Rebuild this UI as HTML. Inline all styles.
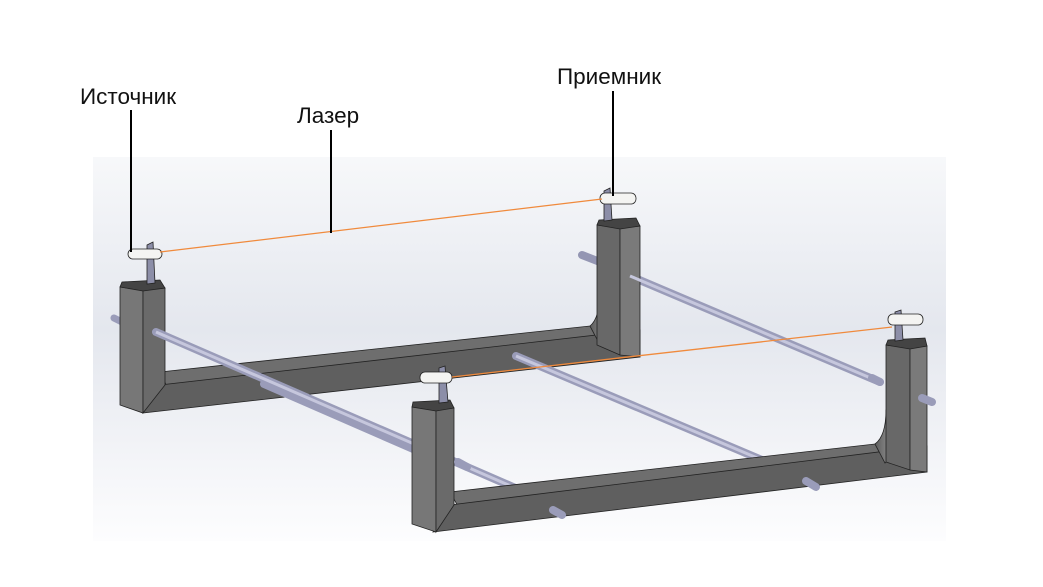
<!DOCTYPE html>
<html><head><meta charset="utf-8"><style>
html,body{margin:0;padding:0;background:#fff;}
svg{display:block}
text{font-family:"Liberation Sans",sans-serif;font-size:22.5px;fill:#111}
</style></head><body>
<svg width="1043" height="587" viewBox="0 0 1043 587" xmlns="http://www.w3.org/2000/svg">
<defs>
<linearGradient id="bg" x1="0" y1="0" x2="0" y2="1">
<stop offset="0" stop-color="#f7f8fa"/><stop offset="0.45" stop-color="#e4e7ee"/><stop offset="1" stop-color="#fdfdfe"/>
</linearGradient>
<linearGradient id="curve" x1="0" y1="0" x2="1" y2="0">
<stop offset="0" stop-color="#5c5c5c"/><stop offset="1" stop-color="#b0b0b0"/>
</linearGradient>
</defs>
<rect x="93" y="157" width="853" height="384" fill="url(#bg)"/>

<line x1="582" y1="255" x2="600" y2="262" stroke="#9496b3" stroke-width="8" stroke-linecap="round"/>
<line x1="630" y1="276" x2="880" y2="382" stroke="#9a9cb9" stroke-width="8" stroke-linecap="round"/>
<line x1="114" y1="318" x2="124" y2="323" stroke="#9a9cb9" stroke-width="7" stroke-linecap="round"/>

<!-- BACK FRAME -->
<g stroke="#222" stroke-width="0.8">
<polygon points="160,372 590,326 600,345 170,393" fill="#6e6e6e"/>
<polygon points="143,413 640,357 640,330 160,385" fill="#5f5f5f"/>
<path d="M590,326 Q600,318 600,290 L615,290 Q615,330 600,345 Z" fill="url(#curve)"/>
<polygon points="597,225 620,228 620,355 597,345" fill="#686868"/>
<polygon points="620,228 640,226 640,357 620,355" fill="#7a7a7a"/>
<polygon points="120,287 143,290 143,413 120,405" fill="#777"/>
<polygon points="143,290 165,288 165,385 143,413" fill="#6a6a6a"/>
</g>
<g stroke="#222" stroke-width="0.8">
<polygon points="122,282 160,280 165,288 143,291 120,287" fill="#444"/>
<polygon points="599,220 636,218 640,226 620,229 597,225" fill="#444"/>
<polygon points="147,245 153,242 155,283 147,284" fill="#8c8ea8"/>
<polygon points="604,191 610,188 612,220 604,221" fill="#8c8ea8"/>
<rect x="128" y="249" width="34" height="10" rx="5" fill="#f4f4f2"/>
<rect x="600" y="193" width="36" height="11" rx="5" fill="#f4f4f2"/>
</g>

<line x1="156" y1="332" x2="520" y2="490" stroke="#9a9cb9" stroke-width="8" stroke-linecap="round"/>
<line x1="264" y1="384" x2="420" y2="452" stroke="#9a9cb9" stroke-width="8" stroke-linecap="round"/>
<line x1="516" y1="356" x2="762" y2="460" stroke="#9a9cb9" stroke-width="8" stroke-linecap="round"/>
<line x1="156" y1="332" x2="520" y2="490" stroke="#c6c7dd" stroke-width="3"/>
<line x1="516" y1="356" x2="762" y2="460" stroke="#c6c7dd" stroke-width="3"/>
<line x1="630" y1="276" x2="880" y2="382" stroke="#c6c7dd" stroke-width="3"/>

<!-- FRONT FRAME -->
<g stroke="#222" stroke-width="0.8">
<polygon points="450,492 875,444 885,463 460,510" fill="#6e6e6e"/>
<polygon points="433,532 927,472 927,446 450,505" fill="#5f5f5f"/>
<path d="M875,444 Q886,436 886,410 L900,410 Q900,452 885,463 Z" fill="url(#curve)"/>
<polygon points="886,345 910,348 910,470 886,462" fill="#686868"/>
<polygon points="910,348 927,346 927,472 910,470" fill="#7a7a7a"/>
<polygon points="412,407 436,410 436,532 412,524" fill="#777"/>
<polygon points="436,410 454,408 454,505 436,532" fill="#6a6a6a"/>
</g>
<g stroke="#222" stroke-width="0.8">
<polygon points="413,402 450,400 454,408 436,411 412,407" fill="#444"/>
<polygon points="888,340 925,338 927,346 910,349 886,345" fill="#444"/>
<polygon points="439,368 445,366 448,402 439,403" fill="#8c8ea8"/>
<polygon points="895,312 901,310 903,340 895,341" fill="#8c8ea8"/>
<rect x="420" y="372" width="32" height="11" rx="5" fill="#f4f4f2"/>
<rect x="888" y="314" width="35" height="11" rx="5" fill="#f4f4f2"/>
</g>
<g stroke="#9a9cb9" stroke-width="8" stroke-linecap="round">
<line x1="458" y1="462" x2="467" y2="467"/>
<line x1="553" y1="510" x2="562" y2="515"/>
<line x1="806" y1="481" x2="816" y2="487"/>
<line x1="922" y1="398" x2="932" y2="402"/>
<line x1="872" y1="378" x2="880" y2="382"/>
</g>

<line x1="160" y1="252" x2="602" y2="199" stroke="#f08a3c" stroke-width="1.3"/>
<line x1="452" y1="377" x2="892" y2="327" stroke="#f08a3c" stroke-width="1.3"/>

<g stroke="#000" stroke-width="2">
<line x1="131" y1="110" x2="131" y2="252"/>
<line x1="331" y1="130" x2="331" y2="233"/>
<line x1="613" y1="91" x2="613" y2="196"/>
</g>
<text x="80" y="104">Источник</text>
<text x="297" y="123">Лазер</text>
<text x="557" y="84">Приемник</text>
</svg>
</body></html>
